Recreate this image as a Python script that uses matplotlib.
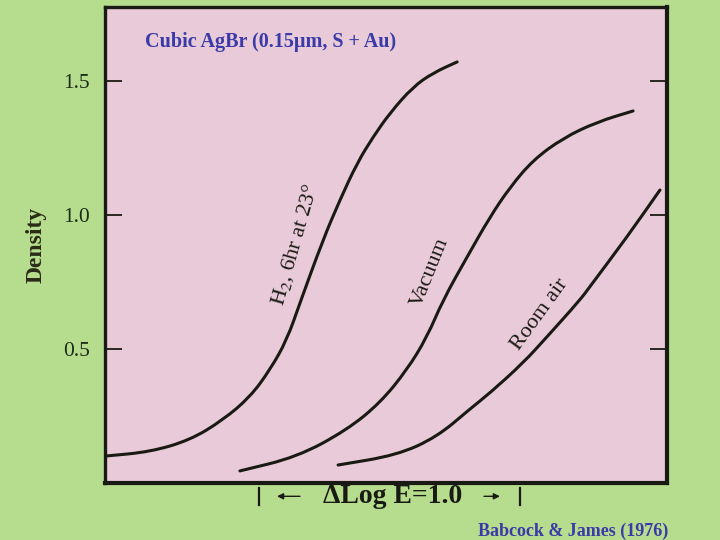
import matplotlib
matplotlib.use("Agg")
import matplotlib.pyplot as plt
import matplotlib.transforms as mtransforms
from matplotlib.path import Path
from matplotlib.patches import PathPatch

# exposure axis: log E measured from the left frame edge (1 unit = ΔLog E of 1.0)
h2_loge = [0.008, 0.172, 0.326, 0.452, 0.556, 0.632, 0.697, 0.747, 0.835, 0.900,
           0.966, 1.027, 1.092, 1.180, 1.257, 1.349]
h2_density = [0.101, 0.116, 0.160, 0.235, 0.321, 0.422, 0.534, 0.672, 0.907, 1.056,
              1.194, 1.291, 1.381, 1.478, 1.530, 1.571]

vacuum_loge = [0.517, 0.736, 0.927, 1.054, 1.157, 1.234, 1.295, 1.387, 1.475, 1.552,
               1.640, 1.755, 1.885, 2.023]
vacuum_density = [0.045, 0.097, 0.198, 0.299, 0.422, 0.545, 0.683, 0.843, 0.993, 1.104,
                  1.205, 1.287, 1.347, 1.388]

air_loge = [0.893, 1.119, 1.272, 1.398, 1.475, 1.602, 1.693, 1.820, 1.858, 2.000, 2.126]
air_density = [0.067, 0.104, 0.172, 0.276, 0.336, 0.448, 0.545, 0.683, 0.733, 0.918, 1.093]

density_ticks = [0.5, 1.0, 1.5]
density_labels = ["0.5", "1.0", "1.5"]

BG_GREEN = "#b6dc8e"
PANEL_PINK = "#e8cad8"
INK = "#1a1a14"
TITLE_BLUE = "#3a3aa8"
SERIF = ["Liberation Serif", "DejaVu Serif"]

plt.rcParams["mathtext.fontset"] = "stix"


def smooth_curve(xs, ys):
    """Quadratic-Bezier path through the read points (corners rounded off)."""
    pts = list(zip(xs, ys))
    verts = [pts[0]]
    codes = [Path.MOVETO]
    mid = lambda a, b: ((a[0] + b[0]) / 2, (a[1] + b[1]) / 2)
    verts.append(mid(pts[0], pts[1]))
    codes.append(Path.LINETO)
    for i in range(1, len(pts) - 1):
        verts += [pts[i], mid(pts[i], pts[i + 1])]
        codes += [Path.CURVE3, Path.CURVE3]
    verts.append(pts[-1])
    codes.append(Path.LINETO)
    return Path(verts, codes)


fig = plt.figure(figsize=(7.2, 5.4), dpi=100, facecolor=BG_GREEN)
ax = fig.add_axes([0.1458, 0.1056, 0.7806, 0.8815], facecolor=PANEL_PINK)

for xs, ys in ((h2_loge, h2_density), (vacuum_loge, vacuum_density), (air_loge, air_density)):
    ax.add_patch(PathPatch(smooth_curve(xs, ys), facecolor="none", edgecolor=INK,
                           lw=2.2, capstyle="round", joinstyle="round"))

ax.set_xlim(0, 2.153)
ax.set_ylim(0, 1.776)

for side in ("left", "top"):
    ax.spines[side].set_linewidth(2.4)
for side in ("right", "bottom"):
    ax.spines[side].set_linewidth(3.0)
for sp in ax.spines.values():
    sp.set_color(INK)

ax.set_xticks([])
ax.set_yticks(density_ticks)
ax.set_yticklabels(density_labels, family=SERIF, fontsize=15.5)
ax.tick_params(axis="y", direction="in", length=12, width=1.3, pad=11,
               right=True, colors=INK, labelcolor="#1c2c18")

ax.set_ylabel("Density", family=SERIF, fontsize=17, fontweight="bold",
              color="#2a2a18", labelpad=12)

# curve labels
ax.text(0.728, 0.888, "H$_\\mathrm{2}$, 6hr at 23°", family=SERIF, fontsize=16, rotation=74,
        ha="center", va="center", color=INK)
ax.text(1.245, 0.787, "Vacuum", family=SERIF, fontsize=16, rotation=68,
        ha="center", va="center", color=INK)
ax.text(1.667, 0.627, "Room air", family=SERIF, fontsize=16, rotation=54,
        ha="center", va="center", color=INK)

ax.text(0.071, 0.926, "Cubic AgBr (0.15µm, S + Au)", transform=ax.transAxes,
        family=SERIF, fontsize=14.5, fontweight="bold", color=TITLE_BLUE,
        ha="left", va="center")

# ΔLog E scale bar under the frame
trans = mtransforms.blended_transform_factory(ax.transData, ax.transAxes)
bar_x = [0.590, 1.590]
for bx in bar_x:
    ax.plot([bx, bx], [-0.011, -0.046], color=INK, lw=1.6, transform=trans, clip_on=False)
ax.text(1.103, -0.029, "ΔLog E=1.0", transform=trans, family=SERIF,
        fontsize=20, fontweight="bold", color=INK, ha="center", va="center")
for tail, head in ((0.747, 0.659), (1.452, 1.513)):
    ax.annotate("", xy=(head, -0.028), xytext=(tail, -0.028),
                xycoords=trans, textcoords=trans, annotation_clip=False,
                arrowprops=dict(arrowstyle="-|>", color=INK, lw=1.0,
                                mutation_scale=9, shrinkA=0, shrinkB=0))

fig.text(0.928, 0.016, "Babcock & James (1976)", family=SERIF, fontsize=13,
         fontweight="bold", color=TITLE_BLUE, ha="right", va="center")

fig.savefig("out.png", dpi=100, facecolor=BG_GREEN)
